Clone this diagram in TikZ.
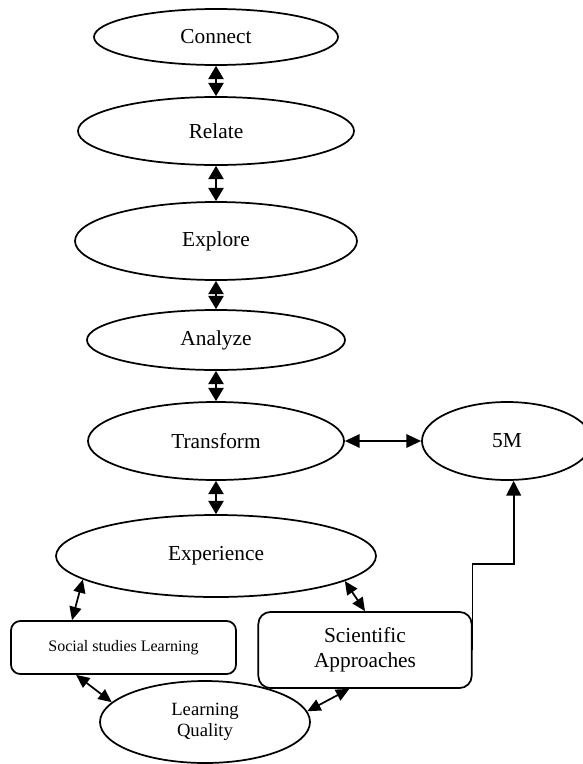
\documentclass[tikz,border=0pt]{standalone}
\usepackage{fontspec}
\setmainfont{Liberation Serif}
\usetikzlibrary{shapes.geometric,arrows.meta}
\begin{document}
\begin{tikzpicture}[x=0.75pt,y=-0.75pt,line width=1.3pt]
        \useasboundingbox (0,0) rectangle (582,764);
        \tikzstyle{every node}=[font=\fontsize{16}{18.75}\selectfont, align=center, inner sep=0pt]
        \tikzstyle{oval}=[draw, ellipse]
        \tikzstyle{box}=[draw, rounded corners=7pt]
        \tikzstyle{twoway}=[{Triangle[width=11.5pt,length=10pt]}-{Triangle[width=11.5pt,length=10pt]}]
        \tikzstyle{across}=[{Triangle[width=10pt,length=11pt]}-{Triangle[width=10pt,length=11pt]}]
        \tikzstyle{slant}=[{Triangle[width=9pt,length=10pt]}-{Triangle[width=9pt,length=10pt]}]
        \node[oval, minimum width=183pt,   minimum height=42pt]   (connect)    at (216,  37) {Connect};
        \node[oval, minimum width=207pt,   minimum height=51pt]   (relate)     at (216, 131) {Relate};
        \node[oval, minimum width=211.5pt, minimum height=58.5pt] (explore)    at (216, 241) {Explore};
        \node[oval, minimum width=193.5pt, minimum height=45pt]   (analyze)    at (216, 340) {Analyze};
        \node[oval, minimum width=192pt,   minimum height=58.5pt] (transform)  at (216, 441) {Transform};
        \node[oval, minimum width=127.5pt, minimum height=58.5pt] (fivem)      at (507, 441) {5M};
        \node[oval, minimum width=240pt,   minimum height=61.5pt] (experience) at (216, 556) {Experience};
        \node[box, minimum width=168.75pt, minimum height=39.75pt,
              font=\fontsize{12}{14}\selectfont]                  (social)     at (123.5, 647.5) {Social studies Learning};
        \node[box, rounded corners=9pt,
              minimum width=160pt, minimum height=57pt]           (sci)        at (365, 650) {Scientific\\Approaches};
        \node[oval, minimum width=157.5pt, minimum height=61.5pt,
              font=\fontsize{14}{16}\selectfont]                  (quality)    at (205, 722) {Learning\\Quality};
        \draw[twoway] (connect) -- (relate);
        \draw[twoway] (relate) -- (explore);
        \draw[twoway] (explore) -- (analyze);
        \draw[twoway] (analyze) -- (transform);
        \draw[twoway] (transform) -- (experience);
        \draw[across] (transform) -- (fivem);
        \draw[-{Triangle[width=11pt,length=11pt]}] (sci.east) -- ++(0,-86) -| ([xshift=5pt]fivem.south);
        \draw[slant] (experience.190) -- (social.152);
        \draw[slant] (social.210) -- (quality.168);
        \draw[slant] (experience.349) -- (sci.north);
        \draw[slant] (sci.248) -- (quality.6);
    \end{tikzpicture}
\end{document}
